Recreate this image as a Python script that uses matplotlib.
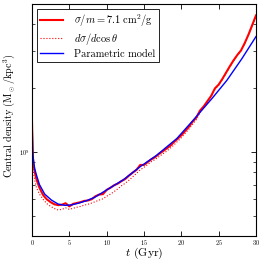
import numpy as np
import matplotlib
matplotlib.use("Agg")
import matplotlib.pyplot as plt
from matplotlib.ticker import NullFormatter

plt.rcParams['font.family'] = ['cmr10', 'DejaVu Serif']
plt.rcParams['mathtext.fontset'] = 'cm'
plt.rcParams['axes.unicode_minus'] = False
plt.rcParams['axes.formatter.use_mathtext'] = True

# Parametric model (blue): time (Gyr), log10 central density
t_model = [0, 0.1, 0.2, 0.36, 0.6, 1.0, 1.7, 2.6, 3.5, 4.4, 5.3, 6.2, 7.3, 8.4, 10,
           12.2, 14.5, 16.7, 19.4, 21.6, 24.1, 26.1, 28.1, 30]
log_model = [9.16, 9.00, 8.96, 8.92, 8.89, 8.845, 8.80, 8.772, 8.753, 8.747, 8.749,
             8.757, 8.769, 8.785, 8.82, 8.867, 8.93, 8.984, 9.063, 9.15, 9.252,
             9.338, 9.44, 9.545]

# sigma/m = 7.1 cm^2/g simulation (red solid)
t_sim = [0, 0.1, 0.2, 0.4, 0.6, 1.0, 1.5, 2.0, 2.5, 3.0, 3.5, 4.0, 4.5, 5.0, 5.5,
         6.0, 6.5, 7.0, 7.5, 8.0, 8.5, 9.0, 9.5, 10, 10.5, 11, 11.5, 12, 12.5, 13,
         13.5, 14, 14.5, 15, 15.5, 16, 16.5, 17, 17.5, 18, 18.5, 19, 19.5, 20,
         20.5, 21, 21.5, 22, 22.5, 23, 23.5, 24, 24.5, 25, 25.5, 26, 26.5, 27,
         27.5, 28, 28.5, 29, 29.5, 30]
log_sim = [9.14, 8.98, 8.94, 8.90, 8.87, 8.83, 8.795, 8.775, 8.762, 8.752, 8.748,
           8.750, 8.757, 8.742, 8.754, 8.758, 8.762, 8.768, 8.770, 8.776, 8.790,
           8.798, 8.800, 8.820, 8.830, 8.842, 8.850, 8.862, 8.872, 8.888, 8.902,
           8.915, 8.938, 8.938, 8.952, 8.965, 8.975, 8.990, 9.002, 9.015, 9.028,
           9.046, 9.062, 9.078, 9.098, 9.118, 9.142, 9.162, 9.195, 9.215, 9.240,
           9.265, 9.300, 9.318, 9.345, 9.375, 9.405, 9.433, 9.458, 9.480, 9.515,
           9.555, 9.600, 9.645]

# dsigma/dcos(theta) simulation (red dotted)
t_ang = [0, 0.1, 0.2, 0.4, 0.6, 1.0, 1.5, 2.0, 2.5, 3.0, 3.5, 4.0, 4.5, 5.0, 5.5,
         6.0, 6.5, 7.0, 7.5, 8.0, 8.5, 9.0, 9.5, 10, 10.5, 11, 11.5, 12, 12.5, 13,
         13.5, 14, 14.5, 15, 15.5, 16, 16.5, 17, 17.5, 18, 18.5, 19, 19.5, 20,
         20.5, 21, 21.5, 22, 22.5, 23, 23.5, 24, 24.5, 25, 25.5, 26, 26.5, 27,
         27.5, 28, 28.5, 29, 29.5, 30]
log_ang = [9.10, 8.95, 8.90, 8.86, 8.83, 8.80, 8.775, 8.755, 8.742, 8.732, 8.725,
           8.728, 8.735, 8.728, 8.733, 8.738, 8.742, 8.748, 8.752, 8.758, 8.765,
           8.772, 8.778, 8.790, 8.800, 8.812, 8.825, 8.840, 8.852, 8.866, 8.882,
           8.898, 8.915, 8.927, 8.940, 8.954, 8.964, 8.977, 8.990, 9.002, 9.017,
           9.032, 9.050, 9.067, 9.087, 9.107, 9.130, 9.152, 9.185, 9.210, 9.235,
           9.262, 9.295, 9.315, 9.343, 9.372, 9.402, 9.430, 9.456, 9.478, 9.512,
           9.552, 9.597, 9.642]

fig = plt.figure(figsize=(2.64, 2.62), dpi=100)
ax = fig.add_axes([32/264, 1-236/262, 224/264, 232/262])

ax.plot(t_sim, 10**np.array(log_sim), color='red', lw=1.5,
        label=r'$\sigma/m = 7.1\ \mathrm{cm}^2/\mathrm{g}$')
ax.plot(t_ang, 10**np.array(log_ang), color='red', lw=0.8, ls=':',
        label=r'$d\sigma/d\cos\theta$')
ax.plot(t_model, 10**np.array(log_model), color='blue', lw=1.0,
        label='Parametric model')

ax.set_yscale('log')
ax.set_xlim(0, 30)
ax.set_ylim(4e8, 5e9)
ax.set_xticks([0, 5, 10, 15, 20, 25, 30])
ax.yaxis.set_minor_formatter(NullFormatter())
ax.tick_params(which='both', direction='in', top=True, right=True, labelsize=4.5, pad=1.5)
ax.tick_params(which='major', length=3.5, width=0.6)
ax.tick_params(which='minor', length=2, width=0.5)
for s in ax.spines.values():
    s.set_linewidth(0.8)

ax.set_xlabel(r'$t$ (Gyr)', fontsize=8.5)
ax.set_ylabel(r'Central density (M$_\odot$/kpc$^3$)', fontsize=7.3)
ax.yaxis.set_label_coords(-0.068, 0.52)
ax.xaxis.set_label_coords(0.5, -0.042)

leg = ax.legend(loc='upper left', fontsize=7.5, frameon=True, fancybox=False,
                edgecolor='black', framealpha=1, handlelength=2.2,
                handletextpad=1.0, borderpad=0.35,
                borderaxespad=0.45, labelspacing=0.2)
leg.get_frame().set_linewidth(0.6)

fig.savefig('out.png', dpi=100)
